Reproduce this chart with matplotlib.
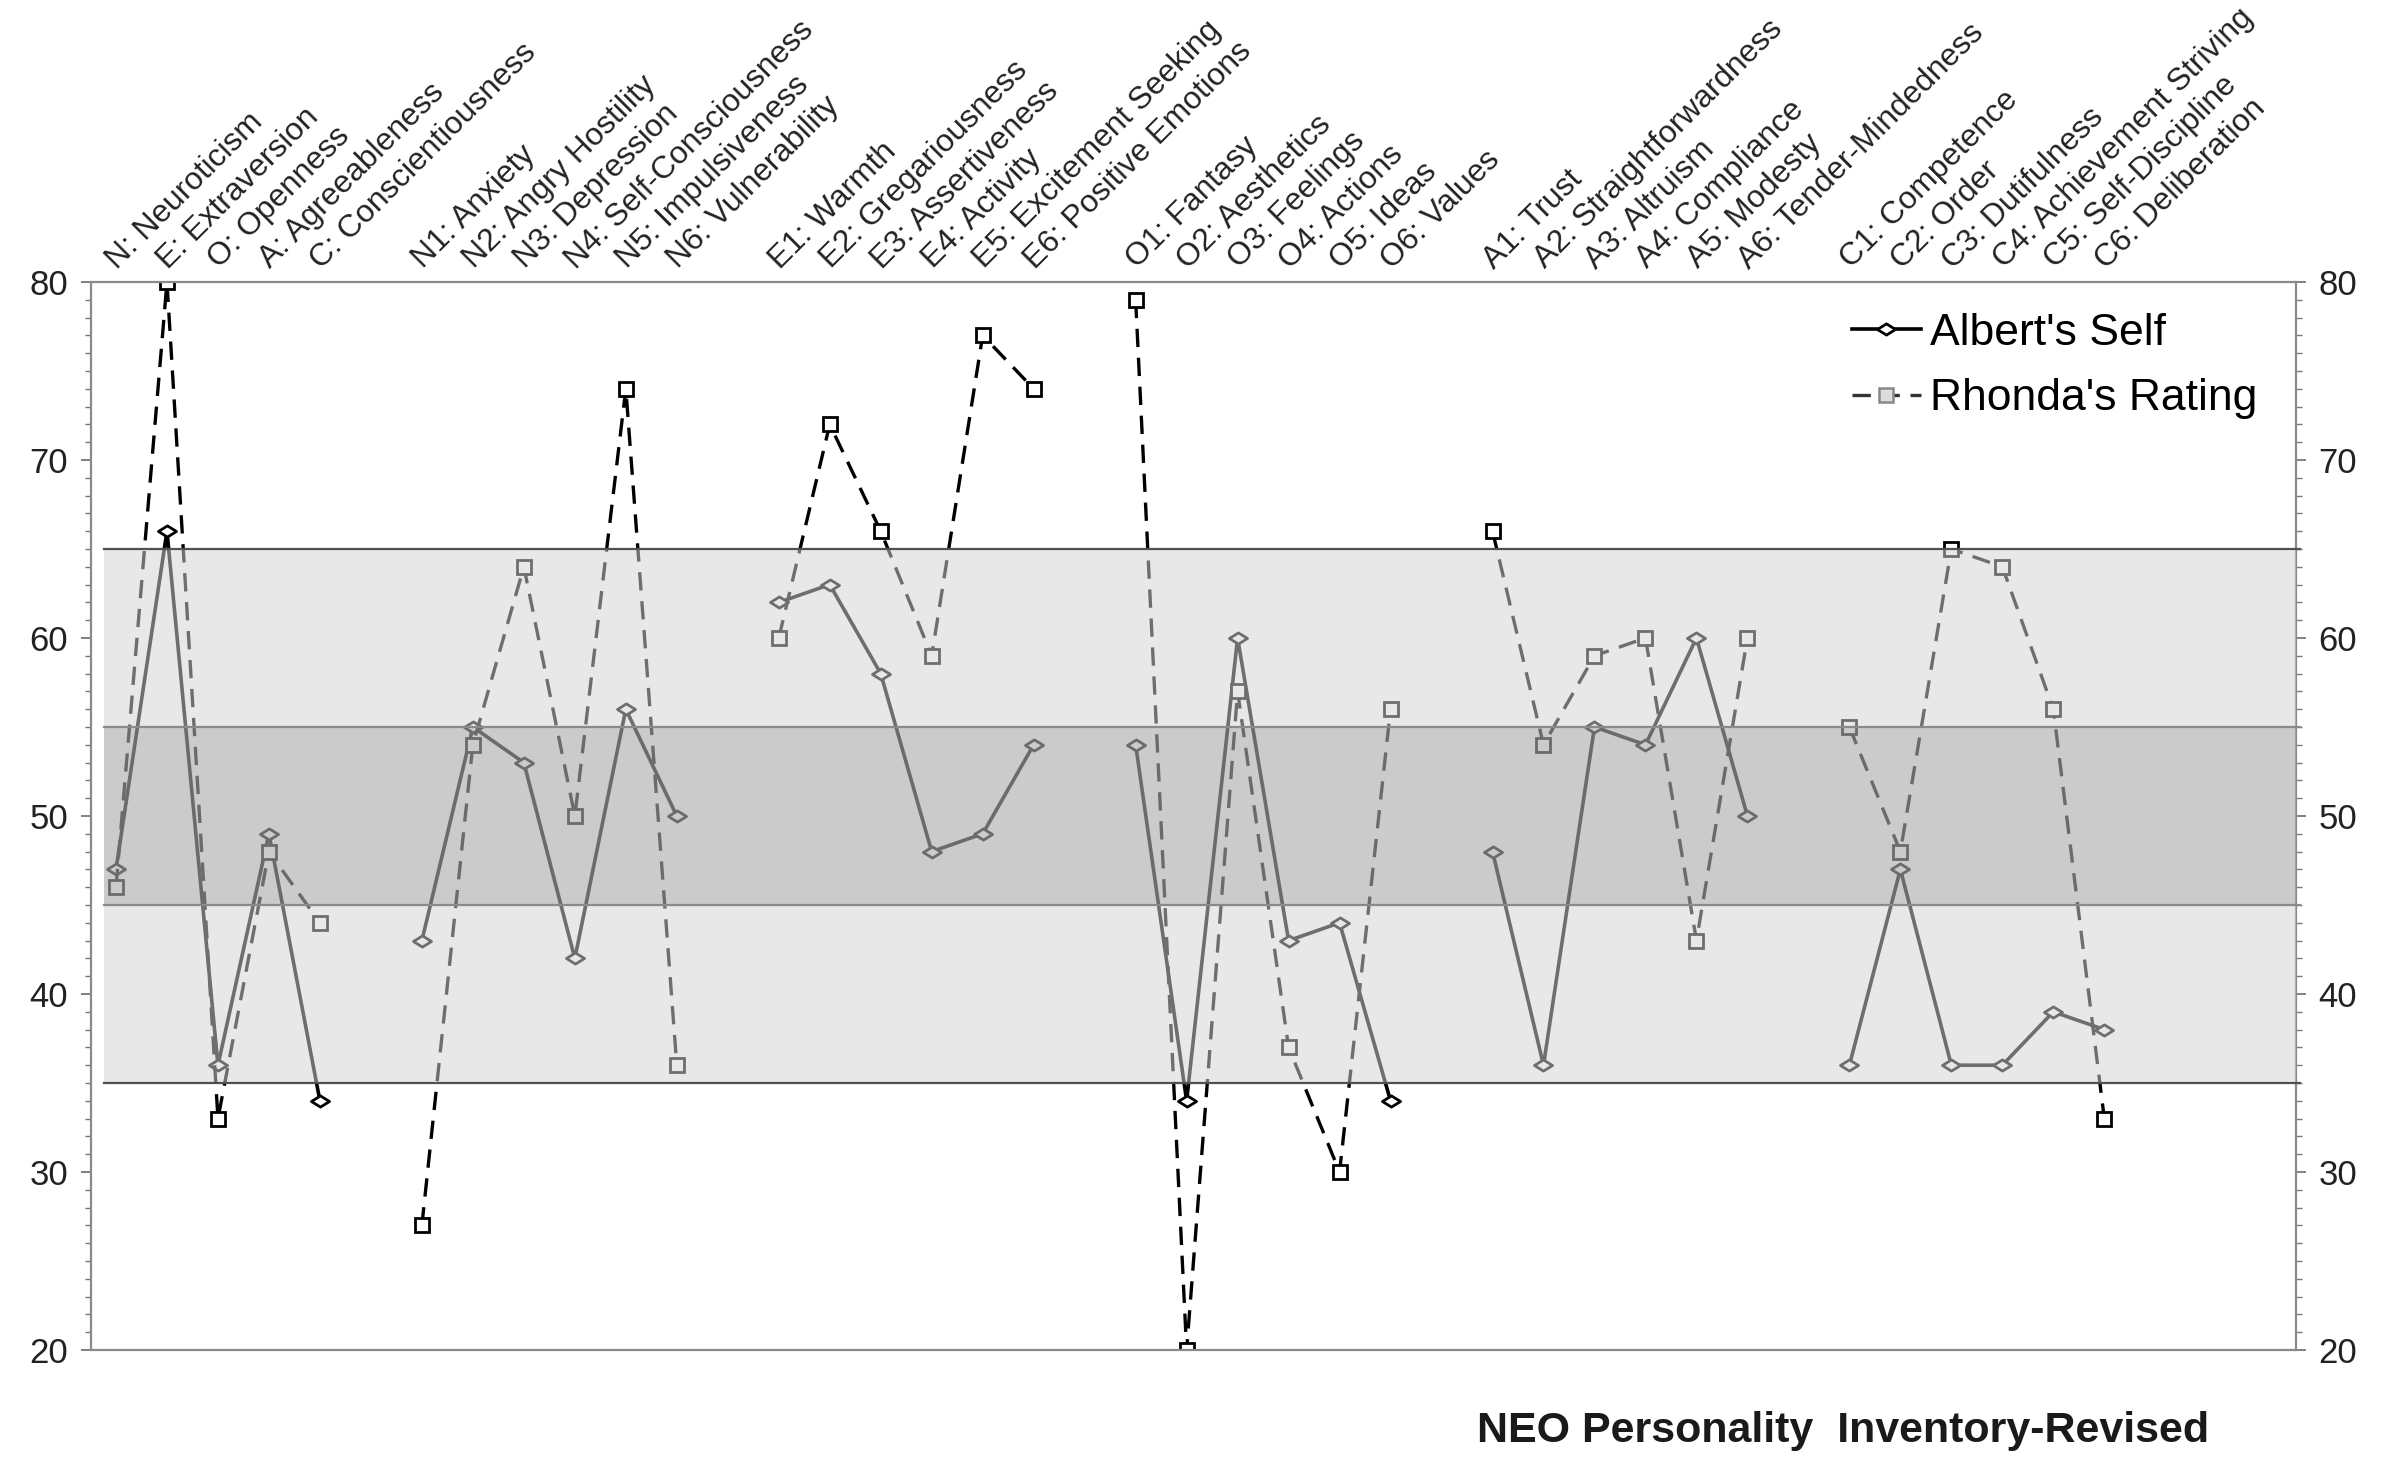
import numpy as np
import matplotlib
matplotlib.use("Agg")
import matplotlib.pyplot as plt
from matplotlib.path import Path
from matplotlib.lines import Line2D

plt.rcParams['font.family'] = ['Liberation Sans', 'DejaVu Sans']

# category labels, one list per group
domains = ["N: Neuroticism", "E: Extraversion", "O: Openness",
           "A: Agreeableness", "C: Conscientiousness"]
n_facets = ["N1: Anxiety", "N2: Angry Hostility", "N3: Depression",
            "N4: Self-Consciousness", "N5: Impulsiveness", "N6: Vulnerability"]
e_facets = ["E1: Warmth", "E2: Gregariousness", "E3: Assertiveness",
            "E4: Activity", "E5: Excitement Seeking", "E6: Positive Emotions"]
o_facets = ["O1: Fantasy", "O2: Aesthetics", "O3: Feelings",
            "O4: Actions", "O5: Ideas", "O6: Values"]
a_facets = ["A1: Trust", "A2: Straightforwardness", "A3: Altruism",
            "A4: Compliance", "A5: Modesty", "A6: Tender-Mindedness"]
c_facets = ["C1: Competence", "C2: Order", "C3: Dutifulness",
            "C4: Achievement Striving", "C5: Self-Discipline", "C6: Deliberation"]

# Albert's Self (T-scores)
albert_domains = [47, 66, 36, 49, 34]
albert_n = [43, 55, 53, 42, 56, 50]
albert_e = [62, 63, 58, 48, 49, 54]
albert_o = [54, 34, 60, 43, 44, 34]
albert_a = [48, 36, 55, 54, 60, 50]
albert_c = [36, 47, 36, 36, 39, 38]

# Rhonda's Rating (T-scores)
rhonda_domains = [46, 80, 33, 48, 44]
rhonda_n = [27, 54, 64, 50, 74, 36]
rhonda_e = [60, 72, 66, 59, 77, 74]
rhonda_o = [79, 20, 57, 37, 30, 56]
rhonda_a = [66, 54, 59, 60, 43, 60]
rhonda_c = [55, 48, 65, 64, 56, 33]

groups = [
    (domains, albert_domains, rhonda_domains),
    (n_facets, albert_n, rhonda_n),
    (e_facets, albert_e, rhonda_e),
    (o_facets, albert_o, rhonda_o),
    (a_facets, albert_a, rhonda_a),
    (c_facets, albert_c, rhonda_c),
]

W, H = 2405, 1475
fig = plt.figure(figsize=(W / 100, H / 100), dpi=100)
ax = fig.add_axes([90.5 / W, 1 - 1350 / H, (2296 - 90.5) / W, (1350 - 282) / H])

diamond = Path([(-1, 0), (0, 0.62), (1, 0), (0, -0.62), (-1, 0)],
               [Path.MOVETO, Path.LINETO, Path.LINETO, Path.LINETO, Path.CLOSEPOLY])
dash = (0, (5.5, 3.2))

pos = 0
for labels, albert, rhonda in groups:
    xs = np.arange(pos, pos + len(labels))
    ax.plot(xs, albert, color="black", lw=2.6, marker=diamond, ms=13,
            mfc="white", mec="black", mew=2.0, zorder=2)
    ax.plot(xs, rhonda, color="black", lw=2.4, ls=dash, marker="s", ms=10,
            mfc="white", mec="black", mew=2.0, zorder=2)
    for x, lab in zip(xs, labels):
        ax.annotate(lab, xy=(x, 80), xycoords="data", xytext=(1, 9),
                    textcoords="offset points", rotation=45, rotation_mode="anchor",
                    ha="left", va="baseline", fontsize=22.8, color="#222222",
                    annotation_clip=False)
    pos += len(labels) + 1

# average ranges drawn over the lines, as in the original
ax.axhspan(35, 65, xmin=0.006, xmax=1.0, color="#d4d4d4", alpha=0.52, lw=0, zorder=3)
ax.axhspan(45, 55, xmin=0.006, xmax=1.0, color="#616161", alpha=0.21, lw=0, zorder=3)
for yv, col in [(65, "#505050"), (35, "#505050"), (55, "#8a8a8a"), (45, "#8a8a8a")]:
    ax.axhline(yv, xmin=0.006, xmax=1.002, color=col, lw=1.6, zorder=4, clip_on=False)

ax.set_xlim(-0.5, 42.76)
ax.set_ylim(20, 80)
ax.set_xticks([])
ax.set_yticks(np.arange(20, 81, 10))
ax.set_yticks(np.arange(20, 81, 1), minor=True)
ax.tick_params(axis="y", which="both", left=True, right=True, labelleft=True,
               labelright=True, colors="#777777", labelcolor="#222222",
               labelsize=25, direction="out")
ax.tick_params(axis="y", which="major", length=7, width=1.3, pad=9)
ax.tick_params(axis="y", which="minor", length=4.5, width=1.0)
for sp in ax.spines.values():
    sp.set_color("#8a8a8a")
    sp.set_linewidth(1.6)

handles = [
    Line2D([], [], color="black", lw=2.6, marker=diamond, ms=13, mfc="white",
           mec="black", mew=2.0),
    Line2D([], [], color="#333333", lw=2.4, ls=dash, marker="s", ms=10,
           mfc="#dddddd", mec="#888888", mew=1.8),
]
ax.legend(handles, ["Albert's Self", "Rhonda's Rating"], loc="upper left",
          bbox_to_anchor=(1852 / W, 1 - 313 / H), bbox_transform=fig.transFigure,
          frameon=False, fontsize=32, handlelength=1.55, handletextpad=0.2,
          labelspacing=0.55, borderaxespad=0, borderpad=0)

fig.text(1477 / W, 1 - 1431 / H, "NEO Personality  Inventory-Revised", ha="left",
         va="center", fontsize=31, fontweight="bold", color="#1a1a1a")

fig.savefig("out.png", dpi=100, facecolor="white")
